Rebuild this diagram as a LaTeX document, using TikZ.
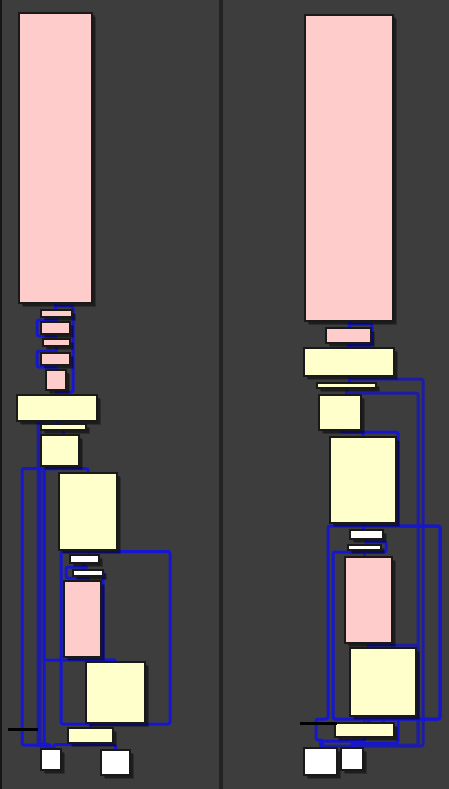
\documentclass[tikz,border=0pt]{standalone}
\usetikzlibrary{shadows}
\pgfdeclarelayer{back}
\pgfdeclarelayer{wires}
\pgfsetlayers{back,wires,main}
\definecolor{panel}{HTML}{3D3D3D}
\definecolor{split}{HTML}{232323}
\definecolor{rosa}{HTML}{FFCCCC}
\definecolor{crema}{HTML}{FFFFCC}
\definecolor{link}{HTML}{1616D2}
\definecolor{trunk}{HTML}{1C1CA8}

\begin{document}
\begin{tikzpicture}[
	x=1pt, y=-1pt,
	box/.style = {draw=black!90, line width=1.8pt, inner sep=0pt, outer sep=0pt,
		drop shadow={shadow xshift=4pt, shadow yshift=-4pt, opacity=.25, fill=black},
		drop shadow={shadow xshift=2.5pt, shadow yshift=-2.5pt, opacity=.35, fill=black}},
	rbox/.style = {box, fill=rosa},
	ybox/.style = {box, fill=crema},
	wbox/.style = {box, fill=white},
	wh/.style 2 args = {minimum width=#1pt, minimum height=#2pt},
	wire/.style = {draw=link, line width=3pt, rounded corners=2pt},
	bus/.style = {wire, draw=trunk, line width=5pt},
	stub/.style = {draw=black, line width=3pt}
	]
\useasboundingbox (0,0) rectangle (449,789);
\begin{pgfonlayer}{back}
	\fill[panel] (0,0) rectangle (449,789);
	\fill[panel!120] (0,0) rectangle (2,789);
	\draw[split, line width=4pt] (220.5,0) -- (220.5,789);
\end{pgfonlayer}
% left panel
\node[rbox, wh={73}{290}] (L1) at (55.5,158) {};
\node[rbox, wh={31}{7}]   (L2) at (56.5,313.5) {};
\node[rbox, wh={29}{12}]  (L3) at (55.5,328) {};
\node[rbox, wh={27}{7}]   (L4) at (56.5,342.5) {};
\node[rbox, wh={29}{12}]  (L5) at (55.5,359) {};
\node[rbox, wh={20}{20}]  (L6) at (56,380) {};
\node[ybox, wh={80}{26}]  (L7) at (57,408) {};
\node[ybox, wh={45}{6}]   (L8) at (63.5,427) {};
\node[ybox, wh={38}{31}]  (L9) at (60,450.5) {};
\node[ybox, wh={58}{77}]  (L10) at (88,511.5) {};
\node[wbox, wh={29}{8}]   (L11) at (84.5,559) {};
\node[wbox, wh={30}{6}]   (L12) at (88,573) {};
\node[rbox, wh={37}{76}]  (L13) at (82.5,619) {};
\node[ybox, wh={59}{61}]  (L14) at (115.5,692.5) {};
\node[ybox, wh={45}{15}]  (L15) at (90.5,735.5) {};
\node[wbox, wh={20}{21}]  (L16) at (51,759.5) {};
\node[wbox, wh={29}{25}]  (L17) at (115.5,762.5) {};
\coordinate (inL) at (8,729);
% right panel
\node[rbox, wh={88}{306}] (R1) at (349,168) {};
\node[rbox, wh={45}{15}]  (R2) at (348.5,335.5) {};
\node[ybox, wh={90}{28}]  (R3) at (349,362) {};
\node[ybox, wh={59}{5}]   (R4) at (346.5,385.5) {};
\node[ybox, wh={42}{35}]  (R5) at (340,412.5) {};
\node[ybox, wh={66}{86}]  (R6) at (363,480) {};
\node[wbox, wh={33}{9}]   (R7) at (366.5,534.5) {};
\node[wbox, wh={33}{5}]   (R8) at (364.5,547.5) {};
\node[rbox, wh={47}{86}]  (R9) at (368.5,600) {};
\node[ybox, wh={66}{68}]  (R10) at (383,682) {};
\node[ybox, wh={59}{14}]  (R11) at (364.5,730) {};
\node[wbox, wh={33}{27}]  (R12) at (320.5,761.5) {};
\node[wbox, wh={22}{22}]  (R13) at (352,759) {};
\coordinate (inR) at (300,723);

\begin{pgfonlayer}{wires}
\foreach \a/\b in {L1/L2,L2/L3,L3/L4,L4/L5,L5/L6,L6/L7,L7/L8,L8/L9,L10/L11,L11/L12,L12/L13,
                   R1/R2,R2/R3,R3/R4,R4/R5,R6/R7,R7/R8,R8/R9,R9/R10,R10/R11}
	\draw[wire] (\a.south) -- (\a.south |- \b.north);
% left panel
\draw[wire] (L1.south) |- (73,306) |- (57,392) -- (L7.north);
\draw[wire] ([yshift=2pt]L3.north) -| ([xshift=-4pt]L3.west) |- ([yshift=-2pt]L3.south);
\draw[wire] ([yshift=2pt]L5.north) -| ([xshift=-4pt]L5.west) |- ([yshift=-2pt]L5.south);
\draw[wire] ([yshift=3pt]L12.north) -| ([xshift=-7pt]L12.west) |- ([yshift=-2pt]L12.south);
\draw[bus] (L7.south -| 39,0) -- (39,745) -| ([xshift=-3pt]L16.north);
\draw[wire] (L9.south) -- ++(0,2.5) -| (L10.north);
\draw[wire] (L9.south) -- ++(0,2.5) -| (22,745) -| ([xshift=-1pt]L16.north);
\draw[wire] (L9.south) -- ++(0,2.5) -| (44,660) -| (L14.north);
\draw[wire] (L9.south) -- ++(0,2.5) -| (44,745) -| (L16.north);
\draw[wire] (L10.south) -- ++(0,1.5) -| (170,724) -| (L15.north);
\draw[wire] (L10.south) -- ++(0,1.5) -| (61,724) -| (L15.north);
\draw[wire] (L12.east) -| (103,660) -| (L14.north);
\draw[wire] (L15.south) -- ++(0,1.5) -| (L17.north);
\draw[wire] (L15.south) -- ++(0,1.5) -| ([xshift=3pt]L16.north);
% right panel
\draw[wire] (R1.south) -- ++(0,3) -| ([xshift=1pt]R2.east) |- ([yshift=3pt]R3.north) -- (R3.north);
\draw[wire] ([yshift=3pt]R8.north) -| ([xshift=5pt]R8.east) |- ([yshift=-2pt]R8.south);
\draw[wire, draw=trunk] (R3.south) -- ++(0,3) -| (423,746) -| ([xshift=1pt]R12.north);
\draw[wire, draw=trunk] (R4.south) -- ++(0,5) -| (418,745) -| ([xshift=2pt]R13.north);
\draw[wire, draw=trunk] (R9.south) -- ++(0,2) -| (418,745);
\draw[wire] (R5.south) -- ++(0,2) -| (R6.north);
\draw[wire] (R5.south) -- ++(0,2) -| (398,526) -| (440,719) -| ([xshift=4pt]R11.north);
\draw[wire] (R6.south) -- ++(0,3) -| (440,719) -| (R11.north);
\draw[wire] (R6.south) -- ++(0,3) -| (328,719) -| (316,740) -| ([xshift=2pt]R12.north);
\draw[wire] (R8.south) -- ++(0,2) -| (333,719) -| (R11.north);
\draw[wire] (R10.south -| 398,0) -- (398,743) -| (R13.north);
\draw[wire] (R11.south) -- ++(0,4) -| (R12.north);
\draw[wire] (R11.south) -- ++(0,4) -| (R13.north);
\end{pgfonlayer}
\draw[stub] (inL) -- ++(30,0);
\draw[stub] (inR) -- ++(37,0);
\end{tikzpicture}
\end{document}
